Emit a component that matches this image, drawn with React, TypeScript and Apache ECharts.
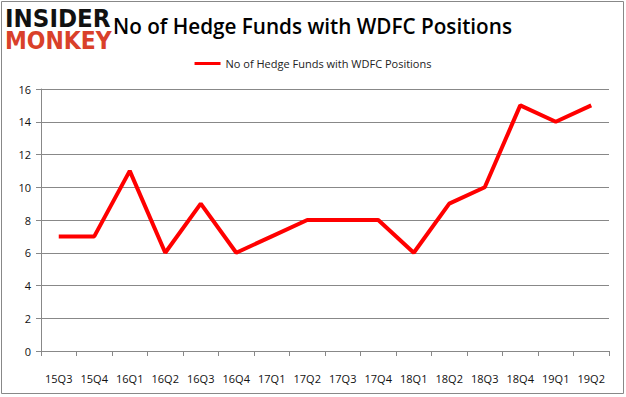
import React, { useEffect, useRef } from "react";
import * as echarts from "echarts";

const categories = ["15Q3","15Q4","16Q1","16Q2","16Q3","16Q4","17Q1","17Q2","17Q3","17Q4","18Q1","18Q2","18Q3","18Q4","19Q1","19Q2"];
const seriesName = "No of Hedge Funds with WDFC Positions";
const values = [7,7,11,6,9,6,7,8,8,8,6,9,10,15,14,15];
const titleText = "No of Hedge Funds with WDFC Positions";

export default function App() {
  const ref = useRef<HTMLDivElement>(null);
  useEffect(() => {
    if (!ref.current) return;
    const chart = echarts.init(ref.current, null, { renderer: "svg" });
    const font = "Open Sans";
    chart.setOption({
      animation: false,
      backgroundColor: "#ffffff",
      textStyle: { fontFamily: font },
      grid: { left: 41, right: 17, top: 89, bottom: 46 },
      legend: {
        top: 53,
        left: "center",
        itemWidth: 26,
        itemHeight: 3,
        itemGap: 6,
        icon: "rect",
        textStyle: { fontSize: 11, color: "#222", fontFamily: font },
        data: [{ name: seriesName, icon: "rect" }],
      },
      xAxis: {
        type: "category",
        data: categories,
        boundaryGap: true,
        axisLine: { lineStyle: { color: "#888", width: 1 } },
        axisTick: { show: true, length: 5, lineStyle: { color: "#888" } },
        axisLabel: { color: "#111", fontSize: 11, margin: 22, fontFamily: font, interval: 0 },
      },
      yAxis: {
        type: "value",
        min: 0,
        max: 16,
        interval: 2,
        axisLine: { show: true, lineStyle: { color: "#888", width: 1 } },
        axisTick: { show: true, length: 5, lineStyle: { color: "#888" } },
        splitLine: { lineStyle: { color: "#888", width: 1 } },
        axisLabel: { color: "#111", fontSize: 11, margin: 10, fontFamily: font },
      },
      series: [
        {
          name: seriesName,
          type: "line",
          data: values,
          symbol: "none",
          lineStyle: { color: "#ff0000", width: 4 },
          itemStyle: { color: "#ff0000" },
        },
      ],
      graphic: [
        {
          type: "rect",
          shape: { x: 1.5, y: 1.5, width: 622, height: 392 },
          style: { fill: "none", stroke: "#888", lineWidth: 1 },
          silent: true,
        },
        {
          type: "text",
          x: 5,
          y: 19,
          scaleX: 1.28,
          scaleY: 1.35,
          style: {
            text: "INSIDER",
            font: "900 18px 'DejaVu Sans'",
            fill: "#111",
            verticalAlign: "middle",
            lineHeight: 13,
          },
        },
        {
          type: "text",
          x: 5,
          y: 40.5,
          scaleX: 1.22,
          scaleY: 1.35,
          style: {
            text: "MONKEY",
            font: "900 18px 'DejaVu Sans'",
            fill: "#d9402a",
            verticalAlign: "middle",
            lineHeight: 13,
          },
        },
        {
          type: "text",
          x: 113,
          y: 25.5,
          style: {
            text: titleText,
            font: "600 20.7px 'Open Sans'",
            fill: "#000",
            verticalAlign: "middle",
          },
        },
      ],
    });
    return () => chart.dispose();
  }, []);
  return <div ref={ref} style={{ position: "fixed", left: 0, top: 0, width: 626, height: 397 }} />;
}
